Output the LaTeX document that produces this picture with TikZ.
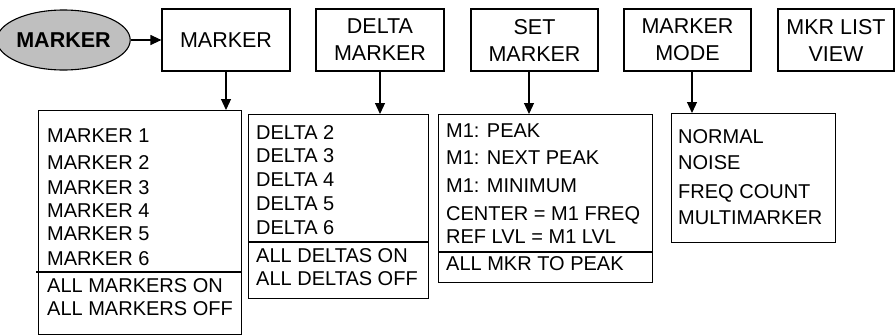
\documentclass[tikz,border=0pt]{standalone}
\usepackage{fontspec}
\setmainfont{Liberation Sans}
\usetikzlibrary{arrows.meta,shapes.geometric}
\definecolor{ellgray}{HTML}{BFBFBF}
\tikzset{
  topbox/.style={draw, line width=1.2pt, minimum height=62pt, inner sep=0pt, align=center,
    font=\fontsize{21.5}{27}\selectfont},
  listbox/.style={draw, line width=1.2pt, anchor=north west, inner sep=0pt},
  item/.style={anchor=base west, inner sep=0pt, font=\fontsize{20}{22}\selectfont},
  arr/.style={line width=1.2pt, -{Triangle[length=11pt,width=10pt]}},
  divider/.style={line width=1.2pt}
}
\begin{document}
\begin{tikzpicture}[x=1pt,y=-1pt]
\useasboundingbox (0,0) rectangle (896,335);
% top row
\node[ellipse, draw, line width=1.1pt, fill=ellgray, minimum width=111pt, minimum height=60pt, inner sep=0pt,
  font=\fontsize{21.5}{24}\selectfont\bfseries] (root) at (63.5,40) {MARKER};
\node[topbox, minimum width=128pt] (mk) at (226,40) {MARKER};
\node[topbox, minimum width=128pt] (dm) at (380,40) {DELTA\\MARKER};
\node[topbox, minimum width=127pt] (sm) at (534.5,40) {SET\\MARKER};
\node[topbox, minimum width=127pt] (mm) at (687.5,40) {MARKER\\MODE};
\node[topbox, minimum width=116pt] (ml) at (836,40) {MKR LIST\\VIEW};
\draw[arr] (root) -- (mk);
% list boxes
\node[listbox, minimum width=203pt, minimum height=224pt] (l1) at (38,110) {};
\node[listbox, minimum width=180pt, minimum height=184pt] (l2) at (248,114) {};
\node[listbox, minimum width=214pt, minimum height=168pt] (l3) at (438,114) {};
\node[listbox, minimum width=164pt, minimum height=129pt] (l4) at (671,113) {};
% connectors
\coordinate (a1) at (226,0);
\coordinate (a2) at (380,0);
\coordinate (a3) at (529,0);
\coordinate (a4) at (692,0);
\draw[arr] (mk.south -| a1) -- (l1.north -| a1);
\draw[arr] (dm.south -| a2) -- (l2.north -| a2);
\draw[arr] (sm.south -| a3) -- (l3.north -| a3);
\draw[arr] (mm.south -| a4) -- (l4.north -| a4);
% dividers
\coordinate (d1) at (36,272);
\coordinate (d2) at (248,242);
\coordinate (d3) at (438,252);
\draw[divider] (d1) -- (d1 -| l1.east);
\draw[divider] (d2) -- (d2 -| l2.east);
\draw[divider] (d3) -- (d3 -| l3.east);
% list 1
\node[item] (t11) at (47,142) {MARKER 1};
\node[item] (t12) at (47,169) {MARKER 2};
\node[item] (t13) at (47,194) {MARKER 3};
\node[item] (t14) at (47,217) {MARKER 4};
\node[item] (t15) at (47,240) {MARKER 5};
\node[item] (t16) at (47,265) {MARKER 6};
\node[item] (t17) at (47,292) {ALL MARKERS ON};
\node[item] (t18) at (47,315) {ALL MARKERS OFF};
% list 2
\node[item] (t21) at (256,139) {DELTA 2};
\node[item] (t22) at (256,162) {DELTA 3};
\node[item] (t23) at (256,186) {DELTA 4};
\node[item] (t24) at (256,210) {DELTA 5};
\node[item] (t25) at (256,234) {DELTA 6};
\node[item] (t26) at (256,262) {ALL DELTAS ON};
\node[item] (t27) at (256,285) {ALL DELTAS OFF};
% list 3
\node[item] (t31) at (446,137) {M1: PEAK};
\node[item] (t32) at (446,164) {M1: NEXT PEAK};
\node[item] (t33) at (446,192) {M1: MINIMUM};
\node[item] (t34) at (446,220) {CENTER = M1 FREQ};
\node[item] (t35) at (446,243) {REF LVL = M1 LVL};
\node[item] (t36) at (446,270) {ALL MKR TO PEAK};
% list 4
\node[item] (t41) at (678,143) {NORMAL};
\node[item] (t42) at (678,169) {NOISE};
\node[item] (t43) at (678,198) {FREQ COUNT};
\node[item] (t44) at (678,224) {MULTIMARKER};
\end{tikzpicture}
\end{document}
